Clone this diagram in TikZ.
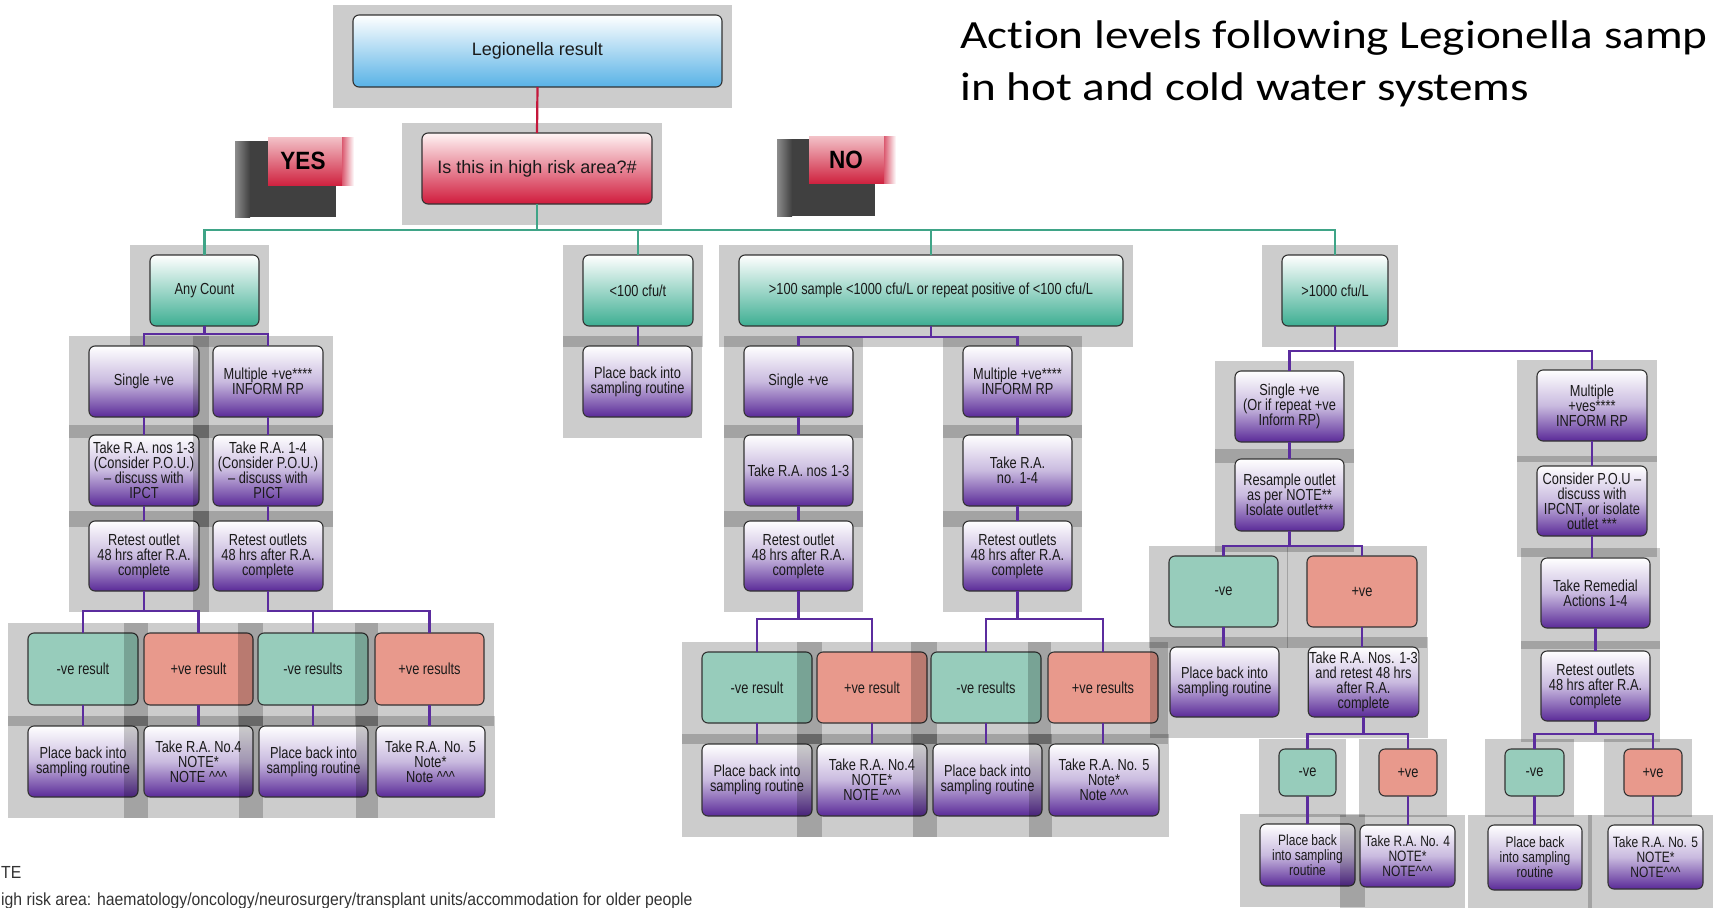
\documentclass[tikz,border=0pt]{standalone}
\usepackage{fontspec}
\setmainfont{Liberation Sans}
\newfontfamily\boxfont[FakeStretch=0.8]{Liberation Sans}
\newfontfamily\titlefont[FakeStretch=1.18,Ligatures=NoCommon]{Carlito}
\newfontfamily\notefont[FakeStretch=0.9]{Liberation Sans}
\newfontfamily\badgefont[FakeStretch=0.9]{Liberation Sans}
\definecolor{boxline}{HTML}{333333}
\definecolor{txt}{HTML}{1A1A1A}
\definecolor{purpD}{HTML}{5A2A98}
\definecolor{purpM}{HTML}{C9BADF}
\definecolor{grnD}{HTML}{3DAE92}
\definecolor{bluD}{HTML}{58B2E6}
\definecolor{redD}{HTML}{D01B3C}
\definecolor{redT}{HTML}{FFF4F4}
\definecolor{negC}{HTML}{97CCBB}
\definecolor{posC}{HTML}{E8998C}
\definecolor{lnG}{HTML}{3FA487}
\definecolor{lnP}{HTML}{5B2C9E}
\definecolor{lnR}{HTML}{C4173B}
\definecolor{darkB}{HTML}{404040}
\definecolor{badgeL}{HTML}{F3C2C8}
\definecolor{badgeD}{HTML}{CF2340}
\definecolor{noteC}{HTML}{333333}
\newcommand\crt{\textasciicircum}
\newcommand\mkbox[7]{%
  \fill[gpanel] ({#3-20},{#4-10}) rectangle ({#5+10},{#6+21});
  \node[#2, minimum width={#5-#3}, minimum height={#6-#4}] (#1) at ({(#3+#5)/2},{(#4+#6)/2}) {#7};
}
\tikzset{
  gpanel/.style={fill=black, fill opacity=0.2, draw=none},
  bx/.style={draw=boxline, line width=1.1pt, rounded corners=6pt, align=center, inner sep=1pt, outer sep=0pt, text=txt, font=\boxfont\fontsize{16}{15}\selectfont},
  bigblue/.style={bx, top color=white, bottom color=bluD, font=\fontsize{18}{21}\selectfont},
  bigred/.style={bx, top color=redT, bottom color=redD, font=\fontsize{18}{21}\selectfont},
  grn/.style={bx, top color=white, bottom color=grnD},
  prp/.style={bx, top color=white, bottom color=purpD, middle color=purpM},
  negbox/.style={bx, fill=negC},
  posbox/.style={bx, fill=posC},
  smallfont/.style={font=\boxfont\fontsize{15}{15}\selectfont},
  lg/.style={draw=lnG, line width=2.4pt},
  lp/.style={draw=lnP, line width=2.8pt},
  lr/.style={draw=lnR, line width=2.2pt},
  badgetext/.style={font=\badgefont\bfseries\fontsize{25}{25}\selectfont, text=black, inner sep=0pt},
}
\begin{document}
\begin{tikzpicture}[x=1pt,y=-1pt]
\useasboundingbox (0,0) rectangle (1717,908);
\clip (0,0) rectangle (1717,908);
\fill[white] (0,0) rectangle (1717,908);

% title
\node[anchor=base west, inner sep=0pt, text=black, font=\titlefont\fontsize{40}{52}\selectfont] (title1) at (960,48) {Action levels following Legionella samp};
\node[anchor=base west, inner sep=0pt, text=black, font=\titlefont\fontsize{40}{52}\selectfont] (title2) at (960,100) {in hot and cold water systems};

% badges
\fill[darkB] (235,141) rectangle (336,217);
\shade[left color=black!45, right color=darkB] (235,141) rectangle (250,217);
\shade[top color=badgeL, bottom color=badgeD] (268,137) rectangle (342,185);
\shade[left color=badgeD!75, right color=white] (342,137) rectangle (354,185);
\node[badgetext] (yes) at (303,161) {YES};
\fill[darkB] (777,139) rectangle (875,216);
\shade[left color=black!45, right color=darkB] (777,139) rectangle (792,216);
\shade[top color=badgeL, bottom color=badgeD] (809,136) rectangle (884,183);
\shade[left color=badgeD!75, right color=white] (884,136) rectangle (896,183);
\node[badgetext] (no) at (846,160) {NO};

% top
\mkbox{top}{bigblue}{353}{15}{722}{87}{Legionella result}
\mkbox{risk}{bigred}{422}{133}{652}{204}{Is this in high risk area?\#}

% level 1
\mkbox{anyc}{grn}{150}{255}{259}{326}{Any Count}
\mkbox{lt100}{grn}{583}{255}{693}{326}{<100 cfu/t}
\mkbox{mid}{grn}{739}{255}{1123}{326}{>100 sample <1000 cfu/L or repeat positive of <100 cfu/L}
\mkbox{gt1000}{grn}{1282}{255}{1388}{326}{>1000 cfu/L}

% row 1
\mkbox{a1}{prp}{89}{346}{199}{417}{Single +ve}
\mkbox{b1}{prp}{213}{346}{323}{417}{Multiple +ve****\\INFORM RP}
\mkbox{pb}{prp}{583}{346}{692}{417}{Place back into\\sampling routine}
\mkbox{c1}{prp}{744}{346}{853}{417}{Single +ve}
\mkbox{d1}{prp}{963}{346}{1072}{417}{Multiple +ve****\\INFORM RP}
\mkbox{e1}{prp}{1235}{371}{1344}{442}{Single +ve\\(Or if repeat +ve\\Inform RP)}
\mkbox{f1}{prp}{1537}{370}{1647}{441}{Multiple\\+ves****\\INFORM RP}

% row 2
\mkbox{a2}{prp}{89}{435}{199}{506}{Take R.A. nos 1-3\\(Consider P.O.U.)\\– discuss with\\IPCT}
\mkbox{b2}{prp}{213}{435}{323}{506}{Take R.A. 1-4\\(Consider P.O.U.)\\– discuss with\\PICT}
\mkbox{c2}{prp}{744}{435}{853}{506}{Take R.A. nos 1-3}
\mkbox{d2}{prp}{963}{435}{1072}{506}{Take R.A.\\no. 1-4}
\mkbox{e2}{prp}{1235}{459}{1344}{531}{Resample outlet\\as per NOTE**\\Isolate outlet***}
\mkbox{f2}{prp}{1537}{466}{1647}{536}{Consider P.O.U –\\discuss with\\IPCNT, or isolate\\outlet ***}

% row 3
\mkbox{a3}{prp}{89}{521}{199}{591}{Retest outlet\\48 hrs after R.A.\\complete}
\mkbox{b3}{prp}{213}{521}{323}{591}{Retest outlets\\48 hrs after R.A.\\complete}
\mkbox{c3}{prp}{744}{521}{853}{591}{Retest outlet\\48 hrs after R.A.\\complete}
\mkbox{d3}{prp}{963}{521}{1072}{591}{Retest outlets\\48 hrs after R.A.\\complete}
\mkbox{g1}{negbox}{1169}{556}{1278}{627}{-ve}
\mkbox{g2}{posbox}{1307}{556}{1417}{627}{+ve}
\mkbox{f3}{prp}{1541}{558}{1650}{628}{Take Remedial\\Actions 1-4}

% results rows
\mkbox{r1}{negbox}{28}{633}{138}{705}{-ve result}
\mkbox{r2}{posbox}{144}{633}{253}{705}{+ve result}
\mkbox{r3}{negbox}{258}{633}{368}{705}{-ve results}
\mkbox{r4}{posbox}{375}{633}{484}{705}{+ve results}
\mkbox{t1}{negbox}{702}{652}{812}{723}{-ve result}
\mkbox{t2}{posbox}{817}{652}{927}{723}{+ve result}
\mkbox{t3}{negbox}{931}{652}{1041}{723}{-ve results}
\mkbox{t4}{posbox}{1048}{652}{1158}{723}{+ve results}
\mkbox{h1}{prp}{1170}{647}{1279}{717}{Place back into\\sampling routine}
\mkbox{h2}{prp}{1309}{647}{1418}{717}{Take R.A. Nos. 1-3\\and retest 48 hrs\\after R.A.\\complete}
\mkbox{f4}{prp}{1541}{651}{1650}{721}{Retest outlets\\48 hrs after R.A.\\complete}

\mkbox{s1}{prp}{28}{726}{138}{797}{Place back into\\sampling routine}
\mkbox{s2}{prp}{144}{726}{253}{797}{Take R.A. No.4\\NOTE*\\NOTE \crt\crt\crt}
\mkbox{s3}{prp}{259}{726}{368}{797}{Place back into\\sampling routine}
\mkbox{s4}{prp}{376}{726}{485}{797}{Take R.A. No. 5\\Note*\\Note \crt\crt\crt}
\mkbox{u1}{prp}{702}{744}{812}{816}{Place back into\\sampling routine}
\mkbox{u2}{prp}{817}{744}{927}{816}{Take R.A. No.4\\NOTE*\\NOTE \crt\crt\crt}
\mkbox{u3}{prp}{933}{744}{1042}{816}{Place back into\\sampling routine}
\mkbox{u4}{prp}{1049}{744}{1159}{816}{Take R.A. No. 5\\Note*\\Note \crt\crt\crt}
\mkbox{i1}{negbox}{1279}{749}{1336}{796}{-ve}
\mkbox{i2}{posbox}{1379}{749}{1437}{796}{+ve}
\mkbox{k1}{negbox}{1505}{749}{1564}{796}{-ve}
\mkbox{k2}{posbox}{1624}{749}{1682}{796}{+ve}
\mkbox{j1}{prp,smallfont}{1260}{824}{1355}{886}{Place back\\into sampling\\routine}
\mkbox{j2}{prp,smallfont}{1360}{825}{1455}{887}{Take R.A. No. 4\\NOTE*\\NOTE\crt\crt\crt}
\mkbox{l1}{prp,smallfont}{1488}{825}{1582}{890}{Place back\\into sampling\\routine}
\mkbox{l2}{prp,smallfont}{1608}{825}{1703}{889}{Take R.A. No. 5\\NOTE*\\NOTE\crt\crt\crt}

% notes
\node[anchor=base west, inner sep=0pt, text=noteC, font=\notefont\fontsize{17.5}{20}\selectfont] (note1) at (1,878) {TE};
\node[anchor=base west, inner sep=0pt, text=noteC, font=\notefont\fontsize{17.5}{20}\selectfont] (note2) at (1,905) {igh risk area: haematology/oncology/neurosurgery/transplant units/accommodation for older people};

% connectors
\draw[lr] (top.south) -- (risk.north);
\foreach \n in {anyc,lt100,mid,gt1000} \draw[lg] (risk.south) -- ++(0,26) -| (\n.north);
\foreach \n in {a1,b1} \draw[lp] (anyc.south) -- ++(0,8) -| (\n.north);
\draw[lp] (a1.south) -- (a1.south |- a2.north);
\draw[lp] (a2.south) -- (a2.south |- a3.north);
\draw[lp] (b1.south) -- (b1.south |- b2.north);
\draw[lp] (b2.south) -- (b2.south |- b3.north);
\foreach \n in {r1,r2} \draw[lp] (a3.south) -- ++(0,20) -| (\n.north);
\foreach \n in {r3,r4} \draw[lp] (b3.south) -- ++(0,20) -| (\n.north);
\draw[lp] (r1.south) -- (r1.south |- s1.north);
\draw[lp] (r2.south) -- (r2.south |- s2.north);
\draw[lp] (r3.south) -- (r3.south |- s3.north);
\draw[lp] (r4.south) -- (r4.south |- s4.north);
\draw[lp] (lt100.south) -- (lt100.south |- pb.north);
\foreach \n in {c1,d1} \draw[lp] (mid.south) -- ++(0,11) -| (\n.north);
\draw[lp] (c1.south) -- (c1.south |- c2.north);
\draw[lp] (c2.south) -- (c2.south |- c3.north);
\draw[lp] (d1.south) -- (d1.south |- d2.north);
\draw[lp] (d2.south) -- (d2.south |- d3.north);
\foreach \n in {t1,t2} \draw[lp] (c3.south) -- ++(0,28) -| (\n.north);
\foreach \n in {t3,t4} \draw[lp] (d3.south) -- ++(0,28) -| (\n.north);
\draw[lp] (t1.south) -- (t1.south |- u1.north);
\draw[lp] (t2.south) -- (t2.south |- u2.north);
\draw[lp] (t3.south) -- (t3.south |- u3.north);
\draw[lp] (t4.south) -- (t4.south |- u4.north);
\foreach \n in {e1,f1} \draw[lp] (gt1000.south) -- ++(0,25) -| (\n.north);
\draw[lp] (e1.south) -- (e1.south |- e2.north);
\foreach \n in {g1,g2} \draw[lp] (e2.south) -- ++(0,15) -| (\n.north);
\draw[lp] (g1.south) -- (g1.south |- h1.north);
\draw[lp] (g2.south) -- (g2.south |- h2.north);
\foreach \n in {i1,i2} \draw[lp] (h2.south) -- ++(0,17) -| (\n.north);
\draw[lp] (i1.south) -- (i1.south |- j1.north);
\draw[lp] (i2.south) -- (i2.south |- j2.north);
\draw[lp] (f1.south) -- (f1.south |- f2.north);
\draw[lp] (f2.south) -- (f2.south |- f3.north);
\draw[lp] (f3.south) -- (f3.south |- f4.north);
\foreach \n in {k1,k2} \draw[lp] (f4.south) -- ++(0,13) -| (\n.north);
\draw[lp] (k1.south) -- (k1.south |- l1.north);
\draw[lp] (k2.south) -- (k2.south |- l2.north);
\end{tikzpicture}
\end{document}
